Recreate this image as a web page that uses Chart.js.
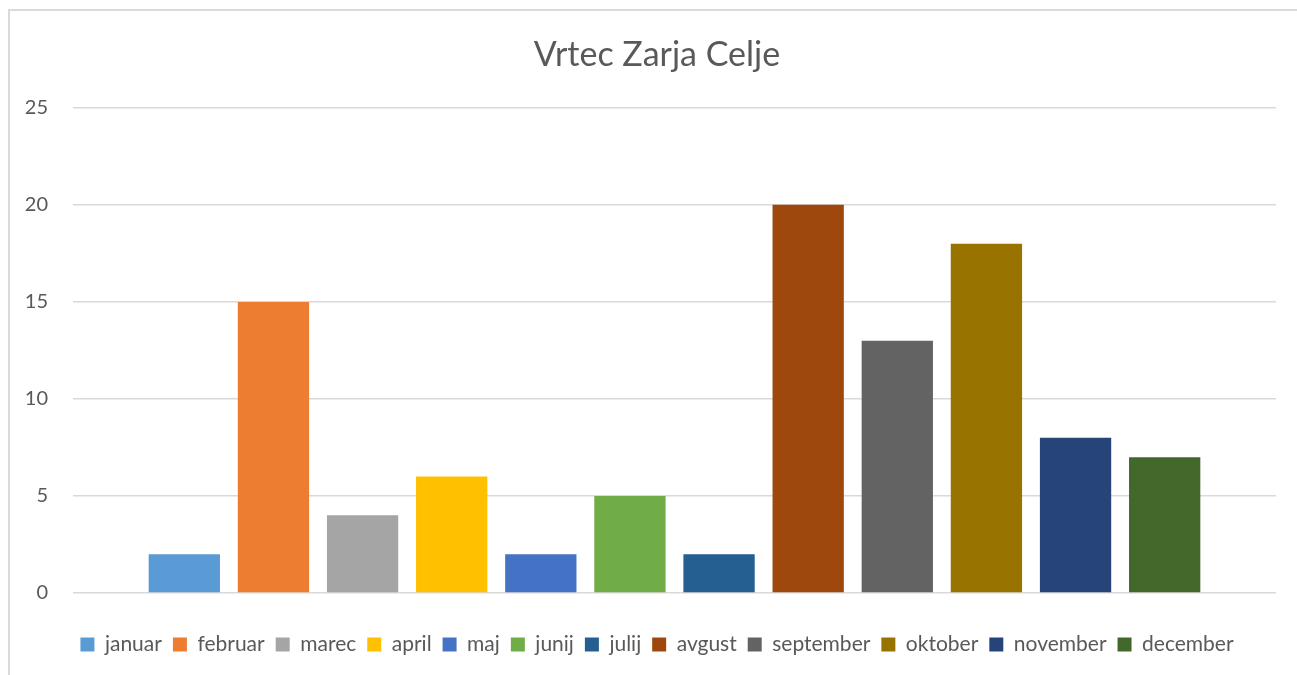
<!DOCTYPE html>
<html>
<head>
<meta charset="utf-8">
<script src="https://cdn.jsdelivr.net/npm/chart.js@4.4.1/dist/chart.umd.min.js"></script>
<style>
  html, body { margin: 0; padding: 0; background: #ffffff; overflow: hidden; }
  #frame {
    position: absolute; left: 8px; top: 9px; width: 1400px; height: 800px;
    border: 2px solid #d9d9d9; box-sizing: border-box;
  }
  #wrap { position: absolute; left: 0; top: 0; width: 1297px; height: 675px; }
</style>
</head>
<body>
<div id="frame"></div>
<div id="wrap"><canvas id="chart" width="1297" height="675"></canvas></div>
<script>
const chartTitle = 'Vrtec Zarja Celje';
const categories = [''];
const months = ['januar', 'februar', 'marec', 'april', 'maj', 'junij', 'julij', 'avgust', 'september', 'oktober', 'november', 'december'];
const counts = [2, 15, 4, 6, 2, 5, 2, 20, 13, 18, 8, 7];
const monthColors = ['#5B9BD5', '#ED7D31', '#A5A5A5', '#FFC000', '#4472C4', '#70AD47', '#255E91', '#9E480E', '#636363', '#997300', '#264478', '#43682B'];
const yTicks = [0, 5, 10, 15, 20, 25];

const textColor = '#595959';
const fontFamily = 'Lato, "Open Sans", sans-serif';

const datasets = months.map((name, i) => ({
    label: name,
    data: [counts[i]],
    backgroundColor: monthColors[i],
    borderWidth: 0,
    barPercentage: 0.8,
    categoryPercentage: 0.889
}));

// the y labels sit left of the padded area, so don't let the axis box clip them
const unclipYLabels = {
    id: 'unclipYLabels',
    afterLayout(chart) {
        chart.scales.y.left = 0;
    }
};

new Chart(document.getElementById('chart').getContext('2d'), {
    type: 'bar',
    data: { labels: categories, datasets },
    plugins: [unclipYLabels],
    options: {
        responsive: false,
        animation: false,
        devicePixelRatio: 1,
        layout: { padding: { left: 38, right: 21, top: 35, bottom: 10 } },
        plugins: {
            title: {
                display: true,
                text: chartTitle,
                color: textColor,
                font: { family: fontFamily, size: 34, weight: 'normal' },
                padding: { top: 0, bottom: 32 }
            },
            legend: {
                position: 'bottom',
                labels: {
                    color: textColor,
                    font: { family: fontFamily, size: 21 },
                    boxWidth: 14,
                    boxHeight: 14,
                    padding: 11
                }
            },
            tooltip: { enabled: false }
        },
        scales: {
            x: {
                ticks: { display: false },
                grid: { display: false, drawTicks: false },
                border: { display: false },
                afterFit: (scale) => { scale.height += 30; }
            },
            y: {
                min: 0,
                max: 25,
                afterBuildTicks: (axis) => { axis.ticks = yTicks.map((v) => ({ value: v })); },
                afterFit: (scale) => { scale.width = 35; },
                ticks: {
                    color: textColor,
                    font: { family: fontFamily, size: 20 },
                    padding: 25
                },
                grid: { color: '#d9d9d9', lineWidth: 1.5, drawTicks: false },
                border: { display: false }
            }
        }
    }
});
</script>
</body>
</html>
